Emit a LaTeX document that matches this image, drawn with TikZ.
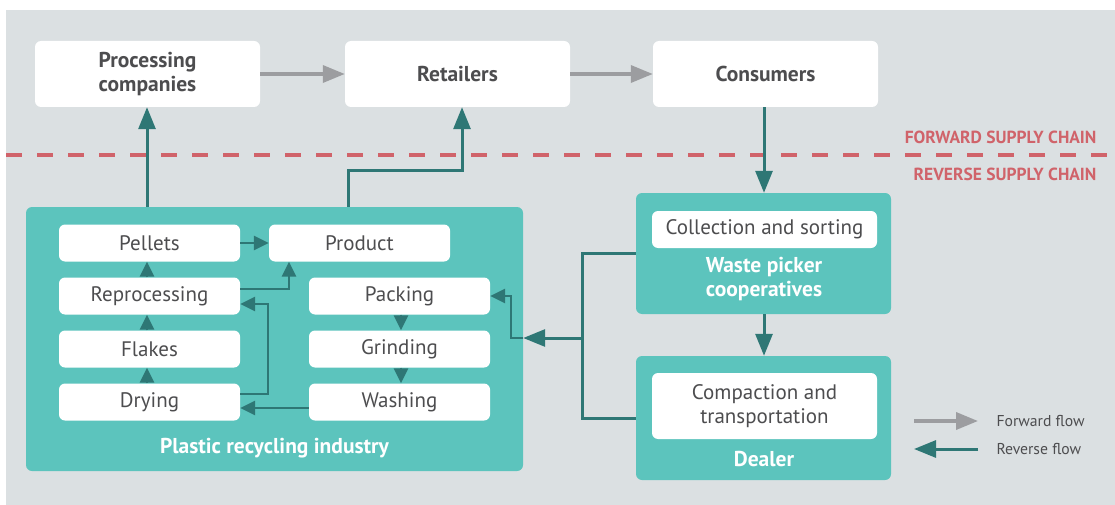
\documentclass[tikz,border=0pt]{standalone}
\usepackage{fontspec}
\setmainfont{PT Sans}
\usetikzlibrary{arrows.meta}
\definecolor{bggray}{HTML}{DBE0E2}
\definecolor{boxteal}{HTML}{5CC4BD}
\definecolor{darkteal}{HTML}{2E7775}
\definecolor{fwdgray}{HTML}{9C9DA0}
\definecolor{chainred}{HTML}{D0636A}
\definecolor{txtgray}{HTML}{4D4D4F}

\begin{document}
\begin{tikzpicture}[x=1pt,y=-1pt,
  topbox/.style={fill=white,rounded corners=6pt,minimum width=225pt,minimum height=66pt,
    inner sep=0pt,align=center,text=txtgray,font=\fontsize{21.5}{24}\selectfont\bfseries},
  stagebox/.style={fill=boxteal,rounded corners=6pt,inner sep=0pt},
  stagelbl/.style={text=white,align=center,font=\fontsize{21.5}{24}\selectfont\bfseries},
  stepbox/.style={fill=white,rounded corners=6pt,minimum width=181pt,minimum height=37pt,
    inner sep=0pt,text=txtgray,font=\fontsize{21}{24}\selectfont},
  taskbox/.style={fill=white,rounded corners=6pt,minimum width=225pt,inner sep=0pt,
    align=center,text=txtgray,font=\fontsize{21}{23.5}\selectfont},
  fwd/.style={draw=fwdgray,line width=3.5pt,-{Triangle[length=22pt,width=17pt]}},
  rev/.style={draw=darkteal,line width=3pt,-{Triangle[length=22pt,width=17pt]}},
  revline/.style={draw=darkteal,line width=3pt},
  revs/.style={draw=darkteal,line width=2.5pt,-{Triangle[length=15pt,width=14pt]}},
  chainlbl/.style={text=chainred,anchor=east,font=\fontsize{17.5}{20}\selectfont\bfseries},
  legendlbl/.style={text=txtgray,anchor=west,font=\fontsize{15.7}{18}\selectfont}]

\useasboundingbox (0,0) rectangle (1115,505);
\fill[bggray] (6,10) rectangle (1115,505);

\node[topbox](proc) at (147.5,74) {Processing\\companies};
\node[topbox](ret) at (457.5,74) {Retailers};
\node[topbox](cons) at (765.5,74) {Consumers};

\draw[chainred,line width=4pt,dash pattern=on 16pt off 15pt] (6,155) -- (1115,155);
\node[chainlbl](fsc) at (1100,137) {FORWARD SUPPLY CHAIN};
\node[chainlbl](rsc) at (1100,174) {REVERSE SUPPLY CHAIN};

\node[stagebox,minimum width=497pt,minimum height=264pt](ind) at (274.5,339) {};
\node[stagelbl](indlbl) at (274.5,448) {Plastic recycling industry};
\node[stepbox](pel) at (149.5,243) {Pellets};
\node[stepbox](prod) at (359.5,243) {Product};
\node[stepbox](rep) at (149.5,296) {Reprocessing};
\node[stepbox](pack) at (399.5,296) {Packing};
\node[stepbox](fla) at (149.5,349) {Flakes};
\node[stepbox](grind) at (399.5,349) {Grinding};
\node[stepbox](dry) at (149.5,402) {Drying};
\node[stepbox](wash) at (399.5,402) {Washing};

\node[stagebox,minimum width=255pt,minimum height=121pt](waste) at (763.5,253.5) {};
\node[taskbox,minimum height=37pt](coll) at (764.5,229.5) {Collection and sorting};
\node[stagelbl](wastelbl) at (764,279) {Waste picker\\cooperatives};

\node[stagebox,minimum width=255pt,minimum height=124pt](deal) at (763.5,418) {};
\node[taskbox,minimum height=66pt](comp) at (764.5,406) {Compaction and\\transportation};
\node[stagelbl](deallbl) at (764,459) {Dealer};

\draw[fwd](proc.east)--(ret.west);
\draw[fwd](ret.east)--(cons.west);

\draw[rev](ind.north -| 147,0)--(147,0 |- proc.south);
\coordinate(k1) at (348,171);
\draw[rev](k1 |- ind.north)--(k1)-|([xshift=4.5pt]ret.south);
\draw[rev](cons.south -| 764,0)--(764,0 |- waste.north);
\draw[rev](waste.south -| 764,0)--(764,0 |- deal.north);

\coordinate(j) at (582,338);
\draw[revline](waste.west)-|(j)|-(deal.west);
\draw[rev](j)--(j -| ind.east);
\coordinate(j2) at (511,338);
\draw[revs](j -| ind.east)--(j2)|-(pack.east);

\draw[revs](pel.east)--(prod.west);
\draw[revs](rep.north -| 147,0)--(147,0 |- pel.south);
\draw[revs](fla.north -| 147,0)--(147,0 |- rep.south);
\draw[revs](dry.north -| 147,0)--(147,0 |- fla.south);
\draw[revs]([yshift=7pt]rep.east)-|([xshift=-70.5pt]prod.south);
\draw[revs]([yshift=8pt]dry.east)--++(28pt,0)|-([yshift=-8pt]rep.east);
\draw[revs]([yshift=-6pt]wash.west)--([yshift=-6pt]dry.east);
\draw[revs](pack.south -| 401,0)--(401,0 |- grind.north);
\draw[revs](grind.south -| 401,0)--(401,0 |- wash.north);

\node[legendlbl](fwdlbl) at (993,421) {Forward flow};
\node[legendlbl](revlbl) at (993,449) {Reverse flow};
\coordinate(lf) at (914,421);
\coordinate(lr) at (978,449);
\draw[fwd](lf)--([xshift=-15pt]fwdlbl.west);
\draw[rev](lr)--([xshift=-79pt]revlbl.west);
\end{tikzpicture}
\end{document}
